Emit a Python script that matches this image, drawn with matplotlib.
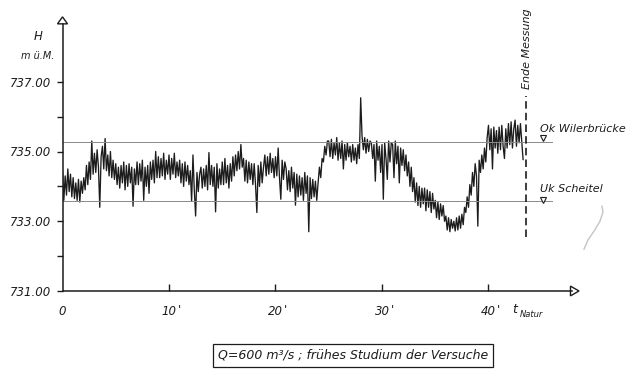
import numpy as np
import matplotlib
matplotlib.use("Agg")
import matplotlib.pyplot as plt
from matplotlib.patches import Polygon

# --- DATA ---
DT = 0.125  # minutes between samples
WATER_LEVEL = [
    734.45, 733.60, 734.30, 733.75, 734.50, 733.85, 734.35, 733.70,
    734.25, 733.65, 734.10, 733.60, 734.20, 733.55, 734.15, 733.80,
    734.25, 733.90, 734.60, 734.05, 734.70, 734.20, 735.30, 734.35,
    734.95, 734.40, 735.05, 734.55, 733.40, 734.85, 735.15, 734.50,
    735.37, 734.45, 734.90, 734.30, 735.00, 734.25, 734.75, 734.20,
    734.65, 734.05, 734.55, 733.95, 734.60, 734.10, 734.70, 733.90,
    734.60, 734.00, 734.65, 734.10, 734.55, 733.43, 734.50, 734.05,
    734.70, 734.05, 734.65, 734.15, 734.75, 733.60, 734.55, 734.00,
    734.60, 733.80, 734.70, 734.20, 734.75, 734.10, 735.00, 734.25,
    734.85, 734.25, 734.80, 734.30, 734.95, 734.20, 734.75, 734.35,
    734.90, 734.20, 734.80, 734.35, 734.95, 734.25, 734.70, 734.30,
    734.75, 734.10, 734.65, 734.00, 734.70, 734.15, 734.60, 734.05,
    734.45, 733.57, 734.90, 733.90, 733.15, 734.40, 733.85, 734.35,
    734.55, 733.95, 734.50, 734.00, 734.60, 733.90, 734.97, 734.05,
    734.60, 734.00, 734.55, 733.27, 734.65, 733.95, 734.50, 734.05,
    734.70, 734.05, 734.80, 734.10, 734.60, 733.95, 734.65, 734.15,
    734.85, 734.30, 734.90, 734.45, 735.00, 734.50, 735.20, 734.55,
    734.80, 734.15, 734.75, 734.10, 734.70, 734.20, 734.65, 734.05,
    734.65, 734.05, 733.25, 734.60, 734.00, 734.70, 734.10, 734.55,
    734.90, 734.30, 734.85, 734.35, 734.95, 734.40, 734.80, 734.25,
    734.85, 734.30, 735.10, 734.25, 733.63, 734.75, 734.20, 734.70,
    734.50, 733.90, 734.45, 733.85, 734.55, 733.95, 734.40, 733.46,
    734.35, 733.70, 734.30, 733.75, 734.25, 733.60, 734.40, 733.80,
    734.30, 732.70, 734.25, 733.65, 734.20, 733.70, 734.15, 733.60,
    734.10, 734.55, 734.25, 734.80, 734.70, 735.15, 734.90, 735.30,
    735.30, 734.85, 735.35, 734.80, 735.25, 734.90, 735.40, 734.75,
    735.25, 734.80, 735.30, 734.50, 735.20, 734.75, 735.25, 734.85,
    735.15, 734.70, 735.20, 734.75, 735.10, 734.65, 735.20, 734.80,
    736.54, 735.45, 735.05, 735.40, 734.95, 735.35, 735.00, 735.30,
    735.25, 734.80, 735.20, 734.15, 735.30, 734.75, 735.15, 734.40,
    735.20, 733.63, 735.25, 734.80, 734.20, 735.30, 734.70, 735.25,
    735.20, 734.25, 735.30, 734.65, 735.15, 734.10, 735.10, 734.60,
    735.05, 734.45, 734.90, 734.30, 734.70, 734.00, 734.55, 733.85,
    734.25, 733.55, 734.10, 733.45, 734.00, 733.40, 733.95, 733.50,
    733.95, 733.30, 733.90, 733.40, 733.85, 733.25, 733.80, 733.35,
    733.60, 733.10, 733.55, 733.05, 733.50, 733.15, 733.45, 733.00,
    733.15, 732.75, 733.10, 732.70, 733.05, 732.80, 733.00, 732.72,
    733.10, 732.75, 733.15, 732.80, 733.20, 732.90, 733.40, 733.25,
    733.70, 733.40, 734.05, 733.75, 734.40, 734.00, 734.65, 734.30,
    732.86, 734.75, 734.40, 734.90, 734.50, 735.10, 734.70, 735.40,
    735.75, 735.05, 735.65, 734.50, 735.70, 735.10, 735.60, 734.95,
    735.70, 735.05, 735.75, 735.15, 734.80, 735.65, 735.10, 735.80,
    735.20, 735.85, 735.10, 735.65, 735.90, 735.15, 735.75, 735.25,
    735.80, 735.30, 734.77,
]

OK_WILERBRUECKE = 735.27   # m ü.M.
UK_SCHEITEL = 733.57       # m ü.M.
END_OF_MEASUREMENT = 43.55  # minutes

Y_TICKS = [731, 733, 735, 737]
Y_MINOR = [732, 734, 736]
X_TICKS = [0, 10, 20, 30, 40]
X_LABELS = ["0", "10", "20", "30", "40"]

# stray pen stroke on the scan (t, H)
PEN_T = [50.66, 50.75, 50.47, 49.90, 49.34, 48.97]
PEN_H = [733.43, 733.26, 733.00, 732.71, 732.46, 732.20]

INK = "#1c1c1c"
FONT = dict(family="DejaVu Sans", style="italic", color=INK)


def plot_level():
    fig = plt.figure(figsize=(6.29, 3.74), dpi=100)
    # axes placed so that t=0 / H=731 sits where the drawing has its origin
    ax = fig.add_axes([62.5 / 629, 83 / 374, 516.5 / 629, 279 / 374])
    ax.set_xlim(0, 48.5)
    ax.set_ylim(731, 739)

    t = np.arange(len(WATER_LEVEL)) * DT
    ax.plot(t, WATER_LEVEL, color=INK, lw=0.95)

    # reference levels
    for lvl in (OK_WILERBRUECKE, UK_SCHEITEL):
        ax.plot([0, 45.95], [lvl, lvl], color="#8a8a8a", lw=0.7, clip_on=False)

    # end of measurement
    ax.plot([END_OF_MEASUREMENT] * 2, [732.54, 736.6], color=INK, lw=1.2,
            ls=(0, (4.5, 2.5)), clip_on=False)
    ax.text(END_OF_MEASUREMENT + 0.05, 737.95, "Ende Messung", rotation=90,
            ha="center", va="center", fontsize=8, **FONT)

    # axes like in the hand drawing
    for s in ("top", "right"):
        ax.spines[s].set_visible(False)
    ax.spines["left"].set_bounds(731, 738.66)
    ax.spines["bottom"].set_bounds(0, 47.84)
    for s in ("left", "bottom"):
        ax.spines[s].set_linewidth(1.1)
        ax.spines[s].set_color(INK)
    ax.add_patch(Polygon([[0, 738.86], [-0.47, 738.66], [0.47, 738.66]],
                         closed=True, fc="white", ec=INK, lw=1.0, clip_on=False))
    ax.add_patch(Polygon([[48.5, 731], [47.7, 731.14], [47.7, 730.86]],
                         closed=True, fc="white", ec=INK, lw=1.0, clip_on=False))

    ax.set_yticks(Y_TICKS)
    ax.set_yticklabels([f"{v:.2f}" for v in Y_TICKS])
    ax.set_yticks(Y_MINOR, minor=True)
    ax.tick_params(axis="y", which="both", direction="out", length=4,
                   width=1.0, color=INK, pad=4)
    ax.set_xticks(X_TICKS)
    ax.set_xticklabels(X_LABELS)
    ax.tick_params(axis="x", direction="in", length=5, width=1.0,
                   color=INK, pad=10)
    ax.xaxis.get_major_ticks()[0].tick1line.set_visible(False)
    for lab in ax.get_xticklabels() + ax.get_yticklabels():
        lab.set_fontstyle("italic")
        lab.set_fontsize(8.5)
        lab.set_color(INK)
    # minute marks after the numbers
    for x in X_TICKS[1:]:
        ax.text(x + 0.95, 730.63, "'", ha="center", va="top",
                fontsize=8.5, **FONT)

    ax.text(-2.3, 738.3, "H", ha="center", va="center", fontsize=8.5, **FONT)
    ax.text(-2.3, 737.75, "m ü.M.", ha="center", va="center", fontsize=7, **FONT)
    ax.text(42.5, 730.46, "t", ha="center", va="center", fontsize=9, **FONT)
    ax.text(42.95, 730.32, "Natur", ha="left", va="center", fontsize=6, **FONT)

    ax.text(44.85, 735.65, "Ok Wilerbrücke", ha="left", va="center",
            fontsize=8, **FONT)
    ax.text(44.85, 733.92, "Uk Scheitel", ha="left", va="center",
            fontsize=8, **FONT)
    ax.plot([45.1, 45.1], [735.39, 733.62], ls="none", marker="v", ms=4.5,
            mfc="white", mec=INK, mew=0.8, clip_on=False)

    ax.plot(PEN_T, PEN_H, color="#c4c4c4", lw=1.0, clip_on=False)

    fig.text(353 / 629, 1 - 355 / 374,
             "Q=600 m\u00b3/s ; frühes Studium der Versuche",
             ha="center", va="center", fontsize=9, **FONT,
             bbox=dict(boxstyle="square,pad=0.4", fc="white", ec=INK, lw=0.9))

    fig.savefig("out.png", dpi=100)


if __name__ == "__main__":
    plot_level()
